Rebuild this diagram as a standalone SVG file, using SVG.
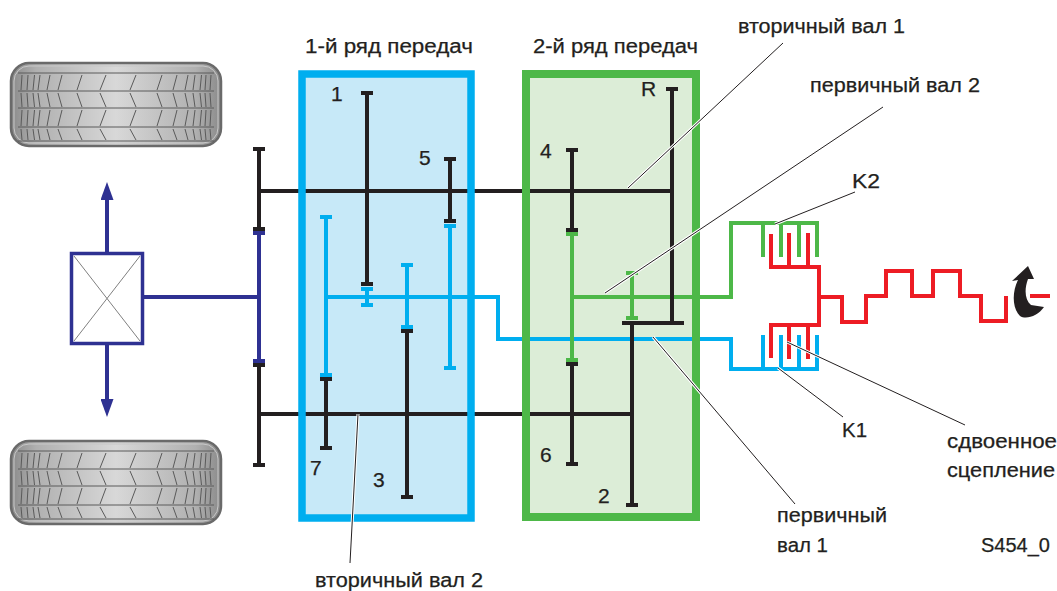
<svg xmlns="http://www.w3.org/2000/svg" xmlns:xlink="http://www.w3.org/1999/xlink" width="1057" height="591" viewBox="0 0 1057 591">
  <style>
    .k { stroke: #231f20; stroke-width: 4; fill: none; }
    .b { stroke: #00aeef; stroke-width: 4; fill: none; }
    .g { stroke: #4db848; stroke-width: 4; fill: none; }
    .r { stroke: #ed1c24; stroke-width: 4; fill: none; }
    .d { stroke: #2e3192; stroke-width: 4; fill: none; }
    .halo { stroke: #ffffff; stroke-width: 3; fill: none; }
    .lead { stroke: #231f20; stroke-width: 1; fill: none; }
    .tread { stroke: #5a5a5a; stroke-width: 1; fill: none; }
    text { font-family: "Liberation Sans", Arial, sans-serif; fill: #231f20; stroke: #231f20; stroke-width: 0.25; }
    .lbl { font-size: 20px; }
    .num { font-size: 21px; }
  </style>
  <defs>
    <linearGradient id="tireShade" x1="0" y1="0" x2="1" y2="0">
      <stop offset="0" stop-color="#8a8a8a"/>
      <stop offset="0.12" stop-color="#b0b0b0"/>
      <stop offset="0.5" stop-color="#d8d8d8"/>
      <stop offset="0.88" stop-color="#b0b0b0"/>
      <stop offset="1" stop-color="#8a8a8a"/>
    </linearGradient>
    <marker id="arrowHead" markerUnits="userSpaceOnUse" markerWidth="18" markerHeight="13" viewBox="0 0 18 13" refX="4" refY="6.5" orient="auto">
      <path d="M0,0 L18,6.5 L0,13 Z" fill="#2e3192"/>
    </marker>
    <!-- tyre seen from above: 212 x 85 -->
    <g id="tire">
      <rect x="1" y="1" width="210" height="83" rx="18" ry="18" fill="url(#tireShade)" stroke="#6a6a6a" stroke-width="2.5"/>
      <rect x="4" y="4" width="204" height="77" rx="15" ry="15" fill="none" stroke="#c8c8c8" stroke-width="1"/>
      <path class="tread" d="M8,11 H204 M8,29 H204 M8,46 H204 M8,65 H204 M8,79 H204"/>
      <path class="tread" d="M11,28 L12,13 M17,28 L18,13 M23,28 L24.5,13 M28,28 L30,13 M37,28 L40,13 M48,28 L52,13 M67,28 L72,13 M90,28 L96,13 M120,28 L126,13 M147,28 L152,13 M163,28 L167,13 M175,28 L178,13 M183,28 L185,13 M190,28 L191.5,13 M195,28 L196,13 M200,28 L201,13"/>
      <path class="tread" d="M11,31 L12,45 M17,31 L18,45 M23,31 L24.5,45 M28,31 L30,45 M37,31 L40,45 M48,31 L52,45 M67,31 L72,45 M90,31 L96,45 M120,31 L126,45 M147,31 L152,45 M163,31 L167,45 M175,31 L178,45 M183,31 L185,45 M190,31 L191.5,45 M195,31 L196,45 M200,31 L201,45"/>
      <path class="tread" d="M11,64 L12,48 M17,64 L18,48 M23,64 L24.5,48 M28,64 L30,48 M37,64 L40,48 M48,64 L52,48 M67,64 L72,48 M90,64 L96,48 M120,64 L126,48 M147,64 L152,48 M163,64 L167,48 M175,64 L178,48 M183,64 L185,48 M190,64 L191.5,48 M195,64 L196,48 M200,64 L201,48"/>
      <path class="tread" d="M11,67 L12,78 M17,67 L18,78 M23,67 L24.5,78 M28,67 L30,78 M37,67 L40,78 M48,67 L52,78 M67,67 L72,78 M90,67 L96,78 M120,67 L126,78 M147,67 L152,78 M163,67 L167,78 M175,67 L178,78 M183,67 L185,78 M190,67 L191.5,78 M195,67 L196,78 M200,67 L201,78"/>
    </g>
  </defs>

  <rect width="1057" height="591" fill="#ffffff"/>

  <!-- wheels -->
  <g id="wheel-top"><use xlink:href="#tire" href="#tire" x="10" y="62"/></g>
  <g id="wheel-bottom"><use xlink:href="#tire" href="#tire" x="10" y="440"/></g>

  <!-- gear set boxes (fill first; outline drawn later over shafts) -->
  <rect x="302" y="74" width="169" height="444" fill="#c7e9f8"/>
  <rect x="526" y="74" width="170" height="443" fill="#dcedd7"/>

  <!-- differential -->
  <g id="differential">
    <path class="d" d="M107,252 V196" marker-end="url(#arrowHead)"/>
    <path class="d" d="M107,345 V403" marker-end="url(#arrowHead)"/>
    <rect x="71.5" y="253.5" width="71" height="90" fill="#ffffff" stroke="#2e3192" stroke-width="3.5"/>
    <path d="M74,256 L140,341 M140,256 L74,341" stroke="#808080" stroke-width="1" fill="none"/>
  </g>

  <!-- shafts and clutch lines -->
  <g id="connectors">
    <path class="d" d="M143,297 H259"/>
    <path class="k" d="M259,191 H672"/>
    <path class="k" d="M259,414 H632"/>
    <path class="b" d="M326,297 H498 V339 H731 V369 H817 V335"/>
    <path class="g" d="M572,297 H731 V223 H817 V257"/>
    <path class="r" d="M819,297 H842 V322 H866 V296 H886 V271 H912 V296 H933 V271 H960 V296 H981 V321 H1006 V296"/>
    <path class="r" d="M1030,296 H1050"/>
  </g>

  <!-- output shaft gears at the final drive -->
  <g id="final-drive">
    <path class="k" d="M259,149 V229 M253,149 h12 M253,229 h12"/>
    <path class="d" d="M259,233 V361 M253,233 h12 M253,361 h12"/>
    <path class="k" d="M259,365 V465 M253,365 h12 M253,465 h12"/>
  </g>

  <!-- gear 1 -->
  <g id="gear-1">
    <path class="k" d="M367,93 V284 M361,93 h12 M361,284 h12"/>
    <path class="b" d="M367,289 V305 M361,289 h12 M361,305 h12"/>
  </g>
  <!-- gear 5 -->
  <g id="gear-5">
    <path class="k" d="M450,159 V221 M444,159 h12 M444,221 h12"/>
    <path class="b" d="M450,226 V368 M444,226 h12 M444,368 h12"/>
  </g>
  <!-- gear 7 -->
  <g id="gear-7">
    <path class="b" d="M326,217 V375 M320,217 h12 M320,375 h12"/>
    <path class="k" d="M326,379 V448 M320,379 h12 M320,448 h12"/>
  </g>
  <!-- gear 3 -->
  <g id="gear-3">
    <path class="b" d="M407,265 V327 M401,265 h12 M401,327 h12"/>
    <path class="k" d="M407,331 V497 M401,331 h12 M401,497 h12"/>
  </g>
  <!-- gears 4 / 6 -->
  <g id="gear-4-6">
    <path class="k" d="M572,150 V230 M566,150 h12 M566,230 h12"/>
    <path class="g" d="M572,234 V360 M566,234 h12 M566,360 h12"/>
    <path class="k" d="M572,364 V464 M566,364 h12 M566,464 h12"/>
  </g>
  <!-- gear 2 and reverse -->
  <g id="gear-2">
    <path class="g" d="M632,273 V318 M626,273 h12 M626,318 h12"/>
    <path class="k" d="M622,323 H684 M632,323 V505 M626,505 h12"/>
  </g>
  <g id="gear-R">
    <path class="k" d="M672,89 V321 M666,89 h12"/>
  </g>

  <!-- box outlines -->
  <g id="row-1">
    <rect x="302" y="74" width="169" height="444" fill="none" stroke="#00aeef" stroke-width="7.5"/>
  </g>
  <g id="row-2">
    <rect x="526" y="74" width="170" height="443" fill="none" stroke="#4db848" stroke-width="8"/>
  </g>

  <!-- dual clutch -->
  <g id="clutch">
    <path class="g" d="M763,223 V257 M781,223 V257 M799,223 V257"/>
    <path class="b" d="M763,369 V335 M781,369 V335 M799,369 V335"/>
    <path class="r" d="M771,234 V267 H819 V325 H771 V358"/>
    <path class="r" d="M789,267 V233 M808,267 V233 M789,325 V359 M808,325 V359"/>
  </g>

  <!-- engine rotation -->
  <g id="engine-rotation">
    <path d="M1012,281 L1028,266 L1034,279 L1028,279 C1024,290 1025,300 1031,305 L1044,307 C1038,316 1026,320 1020,316 C1012,308 1012,292 1018,280 Z" fill="#231f20"/>
  </g>

  <!-- leader lines -->
  <g id="leaders">
    <path class="halo" d="M783,43 L628,188 M883,107 L605,293 M855,192 L775,224 M778,368 L843,417 M787,342 L965,425 M653,337 L795,504 M358,414 L350,563"/>
    <path class="lead" d="M783,43 L628,188 M883,107 L605,293 M855,192 L775,224 M778,368 L843,417 M787,342 L965,425 M653,337 L795,504 M358,414 L350,563"/>
  </g>

  <!-- labels -->
  <g id="labels">
    <text class="lbl" x="305" y="53" textLength="168" lengthAdjust="spacingAndGlyphs">1-й ряд передач</text>
    <text class="lbl" x="533" y="53" textLength="165" lengthAdjust="spacingAndGlyphs">2-й ряд передач</text>
    <text class="lbl" x="738" y="33" textLength="167" lengthAdjust="spacingAndGlyphs">вторичный вал 1</text>
    <text class="lbl" x="810" y="92" textLength="170" lengthAdjust="spacingAndGlyphs">первичный вал 2</text>
    <text class="lbl" x="852" y="188" textLength="28" lengthAdjust="spacingAndGlyphs">K2</text>
    <text class="lbl" x="842" y="437" textLength="25" lengthAdjust="spacingAndGlyphs">K1</text>
    <text class="lbl" x="947" y="448" textLength="110" lengthAdjust="spacingAndGlyphs">сдвоенное</text>
    <text class="lbl" x="947" y="477" textLength="108" lengthAdjust="spacingAndGlyphs">сцепление</text>
    <text class="lbl" x="777" y="522" textLength="110" lengthAdjust="spacingAndGlyphs">первичный</text>
    <text class="lbl" x="777" y="552" textLength="51" lengthAdjust="spacingAndGlyphs">вал 1</text>
    <text class="lbl" x="981" y="552">S454_0</text>
    <text class="lbl" x="315" y="587" textLength="168" lengthAdjust="spacingAndGlyphs">вторичный вал 2</text>
    <text class="num" x="331" y="101">1</text>
    <text class="num" x="419" y="165">5</text>
    <text class="num" x="310" y="475">7</text>
    <text class="num" x="373" y="487">3</text>
    <text class="num" x="540" y="158">4</text>
    <text class="num" x="641" y="96">R</text>
    <text class="num" x="540" y="462">6</text>
    <text class="num" x="598" y="503">2</text>
  </g>
</svg>
